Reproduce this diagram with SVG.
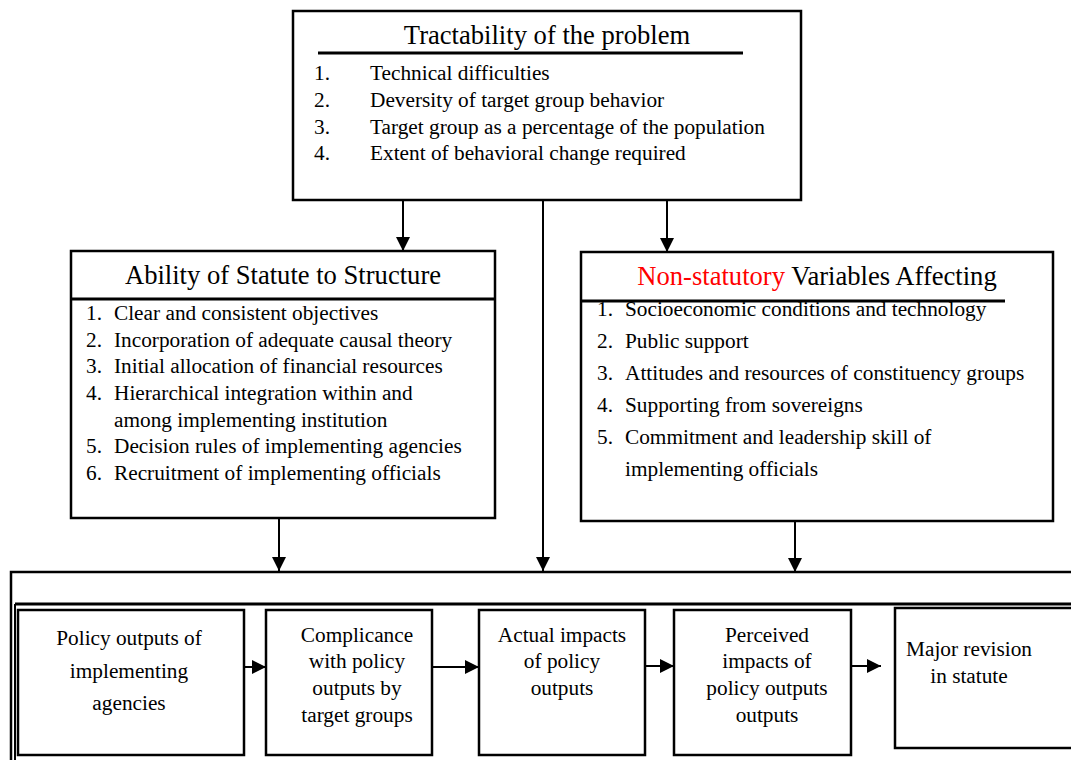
<svg xmlns="http://www.w3.org/2000/svg" width="1071" height="760" viewBox="0 0 1071 760">
<style>
.box{fill:#fff;stroke:#000;stroke-width:2.5}
.ln{stroke:#000;stroke-width:2;fill:none}
.thick{stroke:#000;stroke-width:3;fill:none}
text{font-family:"Liberation Serif","Times New Roman",serif;fill:#000}
.ttl{font-size:26.6px}
.it{font-size:21.3px}
.bx{font-size:21.3px;text-anchor:middle}
.red{fill:#ff0000}
</style>
<defs>
<marker id="ah" viewBox="0 0 14 14" refX="14" refY="7" markerWidth="14" markerHeight="14" markerUnits="userSpaceOnUse" orient="auto">
<path d="M0,0 L14,7 L0,14 Z" fill="#000"/>
</marker>
</defs>
<rect width="1071" height="760" fill="#fff"/>

<g id="outer-frame">
<rect class="box" x="11" y="572" width="1070" height="200"/>
<line class="thick" x1="15" y1="604" x2="1071" y2="604"/>
<line class="ln" x1="15" y1="604" x2="15" y2="760"/>
</g>

<g id="connectors">
<line class="ln" x1="403" y1="201" x2="403" y2="251" marker-end="url(#ah)"/>
<line class="ln" x1="667" y1="201" x2="667" y2="252" marker-end="url(#ah)"/>
<line class="ln" x1="543" y1="201" x2="543" y2="571" marker-end="url(#ah)"/>
<line class="ln" x1="279" y1="519" x2="279" y2="571" marker-end="url(#ah)"/>
<line class="ln" x1="795" y1="522" x2="795" y2="572" marker-end="url(#ah)"/>
<line class="ln" x1="240" y1="667" x2="266" y2="667" marker-end="url(#ah)"/>
<line class="ln" x1="427" y1="667" x2="479" y2="667" marker-end="url(#ah)"/>
<line class="ln" x1="640" y1="666" x2="674" y2="666" marker-end="url(#ah)"/>
<line class="ln" x1="847" y1="666" x2="881" y2="666" marker-end="url(#ah)"/>
</g>

<g id="tractability">
<rect class="box" x="293" y="11" width="508" height="189"/>
<text class="ttl" x="547" y="44" text-anchor="middle">Tractability of the problem</text>
<line class="thick" x1="318" y1="53" x2="743" y2="53"/>
<text class="it" x="314" y="80">1.</text><text class="it" x="370" y="80">Technical difficulties</text>
<text class="it" x="314" y="107">2.</text><text class="it" x="370" y="107">Deversity of target group behavior</text>
<text class="it" x="314" y="134">3.</text><text class="it" x="370" y="134">Target group as a percentage of the population</text>
<text class="it" x="314" y="160">4.</text><text class="it" x="370" y="160">Extent of behavioral change required</text>
</g>

<g id="ability">
<rect class="box" x="71" y="251" width="424" height="267"/>
<text class="ttl" x="283" y="284" text-anchor="middle">Ability of Statute to Structure</text>
<line class="thick" x1="71" y1="299" x2="495" y2="299"/>
<text class="it" x="86" y="320">1.</text><text class="it" x="114" y="320">Clear and consistent objectives</text>
<text class="it" x="86" y="347">2.</text><text class="it" x="114" y="347">Incorporation of adequate causal theory</text>
<text class="it" x="86" y="373">3.</text><text class="it" x="114" y="373">Initial allocation of financial resources</text>
<text class="it" x="86" y="400">4.</text><text class="it" x="114" y="400">Hierarchical integration within and</text>
<text class="it" x="114" y="427">among implementing institution</text>
<text class="it" x="86" y="453">5.</text><text class="it" x="114" y="453">Decision rules of implementing agencies</text>
<text class="it" x="86" y="480">6.</text><text class="it" x="114" y="480">Recruitment of implementing officials</text>
</g>

<g id="nonstatutory">
<rect class="box" x="581" y="252" width="472" height="269"/>
<text class="ttl" x="817" y="285" text-anchor="middle"><tspan class="red">Non-statutory</tspan> Variables Affecting</text>
<text class="it" x="597" y="316">1.</text><text class="it" x="625" y="316">Socioeconomic conditions and technology</text>
<line class="thick" x1="581" y1="301" x2="1005" y2="301"/>
<text class="it" x="597" y="348">2.</text><text class="it" x="625" y="348">Public support</text>
<text class="it" x="597" y="380">3.</text><text class="it" x="625" y="380">Attitudes and resources of constituency groups</text>
<text class="it" x="597" y="412">4.</text><text class="it" x="625" y="412">Supporting from sovereigns</text>
<text class="it" x="597" y="444">5.</text><text class="it" x="625" y="444">Commitment and leadership skill of</text>
<text class="it" x="625" y="476">implementing officials</text>
</g>

<g id="policy-outputs">
<rect class="box" x="18" y="610" width="226" height="145"/>
<text class="bx" x="129" y="645">Policy outputs of</text>
<text class="bx" x="129" y="678">implementing</text>
<text class="bx" x="129" y="710">agencies</text>
</g>

<g id="compliance">
<rect class="box" x="266" y="610" width="166" height="145"/>
<text class="bx" x="357" y="642">Complicance</text>
<text class="bx" x="357" y="668">with policy</text>
<text class="bx" x="357" y="695">outputs by</text>
<text class="bx" x="357" y="722">target groups</text>
</g>

<g id="actual-impacts">
<rect class="box" x="479" y="610" width="166" height="145"/>
<text class="bx" x="562" y="642">Actual impacts</text>
<text class="bx" x="562" y="668">of policy</text>
<text class="bx" x="562" y="695">outputs</text>
</g>

<g id="perceived-impacts">
<rect class="box" x="674" y="610" width="177" height="145"/>
<text class="bx" x="767" y="642">Perceived</text>
<text class="bx" x="767" y="668">impacts of</text>
<text class="bx" x="767" y="695">policy outputs</text>
<text class="bx" x="767" y="722">outputs</text>
</g>

<g id="major-revision">
<rect class="box" x="895" y="608" width="190" height="140"/>
<text class="bx" x="969" y="656">Major revision</text>
<text class="bx" x="969" y="683">in statute</text>
</g>
</svg>
